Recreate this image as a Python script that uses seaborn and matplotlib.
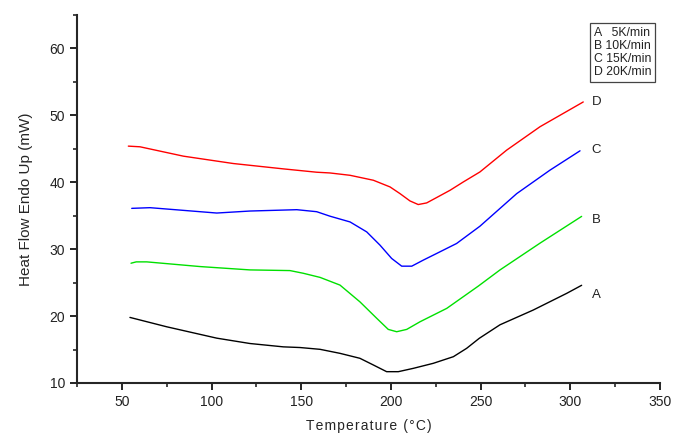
import matplotlib
matplotlib.use("Agg")
import matplotlib.pyplot as plt
import seaborn as sns
import pandas as pd
from matplotlib.ticker import MultipleLocator

# DSC curves
a_temp = [54.5, 75.0, 102.9, 121.4, 140.0, 149.3, 160.5, 171.6, 182.7, 190.2, 197.6, 204.1,
          212.5, 223.6, 234.8, 242.2, 249.2, 260.8, 279.3, 298.0, 306.3]
a_heat = [19.8, 18.4, 16.7, 15.9, 15.4, 15.3, 15.03, 14.43, 13.69, 12.69, 11.69, 11.69,
          12.19, 12.94, 13.93, 15.18, 16.67, 18.7, 20.9, 23.4, 24.6]

b_temp = [55.1, 58.0, 63.9, 93.6, 121.4, 143.7, 151.1, 160.5, 171.6, 182.7, 192.1, 198.5,
          203.2, 208.8, 216.2, 231.1, 248.7, 260.8, 283.1, 306.3]
b_heat = [27.9, 28.1, 28.1, 27.4, 26.9, 26.8, 26.4, 25.78, 24.63, 22.13, 19.66, 18.01,
          17.66, 18.01, 19.15, 21.15, 24.48, 26.9, 30.9, 34.9]

c_temp = [55.5, 65.7, 102.9, 121.4, 147.5, 158.6, 166.0, 177.2, 186.5, 193.9, 200.4, 206.0,
          211.6, 218.0, 225.5, 236.6, 249.6, 270.1, 288.6, 305.4]
c_heat = [36.1, 36.2, 35.4, 35.7, 35.9, 35.6, 34.93, 34.07, 32.58, 30.6, 28.61, 27.46,
          27.46, 28.36, 29.36, 30.85, 33.43, 38.3, 41.8, 44.7]

d_temp = [53.6, 60.1, 84.3, 112.1, 140.0, 158.6, 166.0, 177.2, 190.2, 199.5, 205.0, 210.6,
          215.2, 219.9, 225.5, 233.0, 240.3, 249.6, 264.5, 283.1, 307.2]
d_heat = [45.4, 45.3, 43.9, 42.8, 42.0, 41.5, 41.39, 41.04, 40.3, 39.3, 38.31, 37.21,
          36.67, 36.91, 37.72, 38.81, 40.04, 41.54, 44.8, 48.3, 52.0]

curve_names = ["A", "B", "C", "D"]
rate_labels = ["A   5K/min", "B 10K/min", "C 15K/min", "D 20K/min"]
label_heat = [23.1, 34.3, 44.8, 52.0]
colors = ["black", "#00e000", "blue", "red"]

frames = []
for name, t, h in zip(curve_names, [a_temp, b_temp, c_temp, d_temp],
                      [a_heat, b_heat, c_heat, d_heat]):
    frames.append(pd.DataFrame({"temp": t, "heat": h, "curve": name}))
df = pd.concat(frames, ignore_index=True)

sns.set_style("ticks")
plt.rcParams["font.family"] = ["Liberation Sans", "DejaVu Sans"]

fig = plt.figure(figsize=(6.81, 4.33), dpi=100)
ax = fig.add_axes([0.1131, 0.1155, 0.8561, 0.8499])

sns.lineplot(data=df, x="temp", y="heat", hue="curve", palette=colors,
             sort=False, estimator=None, linewidth=1.0, legend=False, ax=ax)

for name, y in zip(curve_names, label_heat):
    ax.text(312, y, name, fontsize=9.5, color="#222222", va="center", ha="left")

ax.text(0.886, 0.968, "\n".join(rate_labels), transform=ax.transAxes,
        fontsize=8.8, va="top", ha="left", linespacing=1.12, color="#222222",
        bbox=dict(boxstyle="square,pad=0.32", fc="white", ec="#444444", lw=0.9))

ax.set_xlim(25, 350)
ax.set_ylim(10, 65)
ax.xaxis.set_minor_locator(MultipleLocator(25))
ax.yaxis.set_minor_locator(MultipleLocator(5))
ax.set_xticks(range(50, 351, 50))
ax.set_yticks(range(10, 61, 10))
ax.tick_params(which="major", direction="out", length=5, width=1.2, labelsize=10,
               colors="black", labelcolor="#222222")
ax.tick_params(which="minor", direction="out", length=3, width=1.2)

sns.despine(ax=ax)
ax.spines["left"].set_linewidth(1.5)
ax.spines["bottom"].set_linewidth(1.5)

hair = "\u200a"
ax.set_xlabel(hair.join("Temperature (°C)"), fontsize=10, labelpad=7)
ax.set_ylabel("Heat Flow Endo Up (mW)", fontsize=11, labelpad=12)

fig.savefig("out.png", dpi=100)
